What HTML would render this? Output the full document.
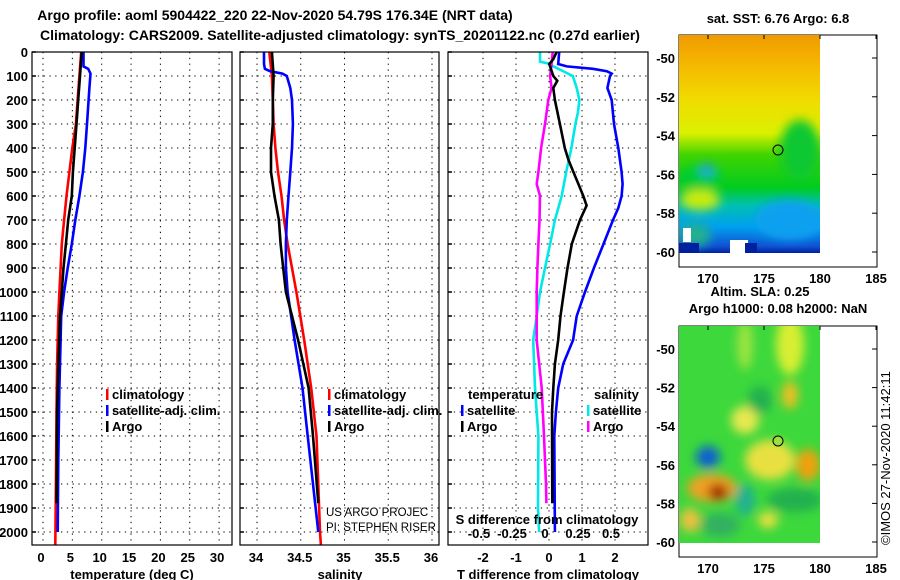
<!DOCTYPE html>
<html><head><meta charset="utf-8"><style>
html,body{margin:0;padding:0;background:#fff;}
svg{display:block;font-family:"Liberation Sans",sans-serif;}
.b{font-weight:bold;font-size:13px;}
.n{font-weight:normal;font-size:11.5px;}
</style></head><body>
<svg id="c" width="900" height="580" viewBox="0 0 900 580">
<defs>
<linearGradient id="sstg" x1="0" y1="0" x2="0" y2="1">
<stop offset="0" stop-color="#f09a00"/><stop offset="0.12" stop-color="#f5b400"/><stop offset="0.3" stop-color="#f0dc00"/><stop offset="0.45" stop-color="#dcf000"/><stop offset="0.55" stop-color="#40d400"/><stop offset="0.7" stop-color="#00cc20"/><stop offset="0.78" stop-color="#00c0b0"/><stop offset="0.88" stop-color="#00a0f0"/><stop offset="0.97" stop-color="#1050d0"/><stop offset="1" stop-color="#0020a0"/>
</linearGradient>
<filter id="bl" x="-50%" y="-50%" width="200%" height="200%"><feGaussianBlur stdDeviation="5"/></filter>
<clipPath id="m1"><rect x="679" y="35" width="141" height="218"/></clipPath>
<clipPath id="m2"><rect x="679" y="326" width="141" height="217"/></clipPath>
</defs>
<text x="275" y="20" text-anchor="middle" class="b" style="font-size:14px">Argo profile: aoml 5904422_220 22-Nov-2020 54.79S 176.34E (NRT data)</text>
<text x="340" y="40" text-anchor="middle" class="b" style="font-size:14px">Climatology: CARS2009. Satellite-adjusted climatology: synTS_20201122.nc (0.27d earlier)</text>
<g id="plots"></g>
<g id="maps">
 <g>
  <text x="778" y="23" text-anchor="middle" class="b">sat. SST: 6.76 Argo: 6.8</text>
  <rect x="679" y="35" width="198" height="232" fill="#fff" stroke="#000"/>
  <g clip-path="url(#m1)">
   <rect x="679" y="35" width="141" height="218" fill="url(#sstg)"/>
   <g filter="url(#bl)">
    <ellipse cx="700" cy="180" rx="22" ry="14" fill="#00cc30"/>
    <ellipse cx="707" cy="170" rx="8" ry="6" fill="#20a0e0"/>
    <ellipse cx="700" cy="200" rx="20" ry="10" fill="#c8ec10"/>
    <ellipse cx="800" cy="150" rx="20" ry="30" fill="#10c830"/>
    <ellipse cx="790" cy="220" rx="35" ry="20" fill="#10a0f0"/>
    <ellipse cx="695" cy="235" rx="16" ry="12" fill="#20b090"/>
   </g>
   <rect x="679" y="243" width="20" height="10" fill="#0020a0"/>
   <rect x="730" y="240" width="18" height="13" fill="#fff"/>
   <rect x="683" y="228" width="8" height="14" fill="#fff"/>
   <rect x="745" y="243" width="12" height="10" fill="#0020a0"/>
  </g>
  <circle cx="778" cy="150" r="5" fill="none" stroke="#000"/>
 </g>
 <g>
  <text x="760" y="296" text-anchor="middle" class="b">Altim. SLA: 0.25</text>
  <text x="778" y="313" text-anchor="middle" class="b">Argo h1000: 0.08 h2000: NaN</text>
  <rect x="679" y="326" width="198" height="231" fill="#fff" stroke="#000"/>
  <g clip-path="url(#m2)">
   <rect x="679" y="326" width="141" height="217" fill="#3cd83c"/>
   <g filter="url(#bl)">
    <ellipse cx="790" cy="345" rx="14" ry="30" fill="#d8ee30"/>
    <ellipse cx="745" cy="345" rx="8" ry="25" fill="#9ce440"/>
    <ellipse cx="790" cy="395" rx="8" ry="14" fill="#f0c020"/>
    <ellipse cx="745" cy="420" rx="14" ry="14" fill="#e8e850"/>
    <ellipse cx="760" cy="400" rx="12" ry="14" fill="#20b050"/>
    <ellipse cx="808" cy="465" rx="12" ry="16" fill="#f0a010"/>
    <ellipse cx="770" cy="460" rx="25" ry="20" fill="#e8e040"/>
    <ellipse cx="708" cy="457" rx="12" ry="11" fill="#1060d0"/>
    <ellipse cx="712" cy="488" rx="25" ry="14" fill="#f0a020"/>
    <ellipse cx="718" cy="492" rx="10" ry="8" fill="#a02000"/>
    <ellipse cx="745" cy="500" rx="10" ry="16" fill="#20b090"/>
    <ellipse cx="795" cy="500" rx="28" ry="12" fill="#20b050"/>
    <ellipse cx="690" cy="520" rx="10" ry="12" fill="#f0c040"/>
    <ellipse cx="720" cy="525" rx="20" ry="12" fill="#30b060"/>
    <ellipse cx="768" cy="520" rx="10" ry="8" fill="#f0e040"/>
   </g>
  </g>
  <circle cx="778" cy="441" r="5" fill="#9be040" stroke="#000"/>
 </g>
</g>
<text transform="translate(890,545) rotate(-90)" font-size="13">©IMOS 27-Nov-2020 11:42:11</text>
</svg>
<script>
// ---- data ----
const depthClim = [0,100,200,300,400,500,600,700,800,900,1000,1100,1300,1500,1800,2054];
const tempClim  = [6.5,6.2,5.9,5.6,5.0,4.5,4.0,3.6,3.2,3.0,2.8,2.6,2.4,2.3,2.2,2.1];
const depthSat  = [0,60,70,90,150,300,400,500,600,700,800,900,1000,1100,1200,1400,1700,2000];
const tempSat   = [6.9,6.9,7.7,8.1,7.9,7.5,7.2,6.8,6.2,5.5,4.9,4.2,3.6,3.1,3.0,2.8,2.6,2.5];
const depthArgo = [0,100,200,300,400,500,600,700,800,900,1000,1100,1300,1500,1880];
const tempArgo  = [6.6,6.3,6.0,5.7,5.4,5.1,4.9,4.3,3.9,3.5,3.2,2.9,2.6,2.4,2.3];
const salClimD  = [0,100,200,300,400,500,600,700,800,900,1000,1200,1400,1600,2000,2054];
const salClim   = [34.14,34.17,34.18,34.19,34.21,34.24,34.28,34.31,34.35,34.40,34.45,34.54,34.62,34.68,34.72,34.73];
const salSatD   = [0,50,70,80,90,100,150,200,300,400,500,600,700,800,900,1000,1200,1400,1600,2000];
const salSat    = [34.08,34.08,34.09,34.15,34.29,34.34,34.38,34.40,34.41,34.40,34.38,34.36,34.34,34.33,34.33,34.35,34.43,34.52,34.58,34.70];
const salArgoD  = [0,100,200,300,400,500,600,700,800,900,1000,1200,1400,1600,1880];
const salArgo   = [34.17,34.19,34.18,34.18,34.16,34.16,34.20,34.25,34.27,34.30,34.33,34.47,34.59,34.64,34.70];
const dTSatD    = [0,50,60,70,80,90,100,150,200,300,400,500,550,600,650,700,800,900,1000,1100,1200,1300,1400,1500,1600,2000];
const dTSat     = [0.31,0.28,0.54,1.33,1.75,1.90,1.85,1.77,1.90,1.97,2.10,2.20,2.23,2.20,2.10,1.94,1.65,1.36,1.09,0.84,0.73,0.43,0.28,0.21,0.16,0.18];
const dTArgoD   = [0,30,50,100,120,150,200,300,400,450,500,550,600,640,700,800,900,1000,1100,1200,1300,1400,1500,1880];
const dTArgo    = [0.23,0.13,0.01,0.13,0.25,0.13,0.18,0.33,0.48,0.59,0.74,0.89,1.04,1.14,0.94,0.69,0.56,0.45,0.35,0.28,0.18,0.13,0.09,0.10];
const dSSatD    = [0,40,50,60,100,150,200,250,300,400,500,600,700,800,900,1000,1100,1200,1400,1600,1900,2000];
const dSSat     = [-0.068,-0.068,0.008,0.033,0.18,0.21,0.23,0.22,0.20,0.17,0.13,0.096,0.045,0.008,-0.03,-0.068,-0.093,-0.12,-0.106,-0.08,-0.083,-0.075];
const dSArgoD   = [0,50,100,150,200,300,400,500,550,600,700,800,900,1000,1200,1400,1600,1800,1880];
const dSArgo    = [0.028,0.02,0.008,0.02,-0.005,-0.03,-0.06,-0.08,-0.093,-0.068,-0.072,-0.08,-0.088,-0.093,-0.093,-0.055,-0.038,-0.023,-0.02];
const depthTicks = [0,100,200,300,400,500,600,700,800,900,1000,1100,1200,1300,1400,1500,1600,1700,1800,1900,2000];
const tempTicks = [0,5,10,15,20,25,30];
const salTicks = [34,34.5,35,35.5,36];
const salTickLabels = ["34","34.5","35","35.5","36"];
const dTTicks = [-2,-1,0,1,2];
const dSTicks = [-0.5,-0.25,0,0.25,0.5];
const dSTickLabels = ["-0.5","-0.25","0","0.25","0.5"];
const latTicks = [-50,-52,-54,-56,-58,-60];
const lonTicks = [170,175,180,185];

// ---- scales ----
const yD = d => 52 + d*0.24;
const xT = t => 43 + t*5.87;
const xS = s => 257 + (s-34)*87.5;
const xDT = t => 549 + t*33;
const xDS = s => 549 + s*132;
const yLat1 = l => 58 + (-50-l)*19.4;
const yLat2 = l => 349 + (-50-l)*19.3;
const xLon = l => 708 + (l-170)*11.2;

const NS='http://www.w3.org/2000/svg';
const root=document.getElementById('plots');
function mk(tag,attrs,parent){const e=document.createElementNS(NS,tag);for(const k in attrs)e.setAttribute(k,attrs[k]);(parent||root).appendChild(e);return e;}
function txt(x,y,s,anchor,parent,cls){const e=mk('text',{x:x,y:y,'text-anchor':anchor||'start',class:cls||'b'},parent);e.textContent=s;return e;}

const panels=[{x0:32,x1:232,name:'temperature-panel'},{x0:240,x1:439,name:'salinity-panel'},{x0:448,x1:648,name:'difference-panel'}];
const gs=[];
panels.forEach((p,i)=>{
  const g=mk('g',{});
  
  
  gs.push(g);
  depthTicks.forEach(d=>{
    const l=mk('line',{x1:p.x0,x2:p.x1,y1:yD(d),y2:yD(d),stroke:'#000','stroke-dasharray':'1.3,4.5'},g);
    
    
    const tk=mk('line',{x1:p.x0,x2:p.x0+4,y1:yD(d),y2:yD(d),stroke:'#000','stroke-width':1.5},g);
    
    
  });
});
function vgrid(g,xs){xs.forEach(x=>{const l=mk('line',{x1:x,x2:x,y1:52,y2:545,stroke:'#000','stroke-dasharray':'1.3,4.5'},g);
  
  });}
vgrid(gs[0],tempTicks.map(xT));
vgrid(gs[1],salTicks.map(xS));
vgrid(gs[2],dTTicks.map(xDT));

depthTicks.forEach(d=>{const t=txt(28,yD(d)+5,String(d),'end');
  
  });
tempTicks.forEach(v=>{const t=txt(xT(v)-2,562,String(v),'middle');
  
  });
salTicks.forEach((v,i)=>{const t=txt(xS(v)-1,562,salTickLabels[i],'middle');
  
  });
dTTicks.forEach(v=>{const t=txt(xDT(v),562,String(v),'middle');
  
  });
dSTicks.forEach((v,i)=>{const t=txt(xDS(v)-4,538,dSTickLabels[i],'middle');
  
  });
let t;
t=txt(132,579,'temperature (deg C)','middle');  
t=txt(340,579,'salinity','middle');  
t=txt(548,579,'T difference from climatology','middle');  
t=txt(547,524,'S difference from climatology','middle');  

function series(g,ds,vs,fx,color,name){
  const pts=ds.map((d,i)=>fx(vs[i]).toFixed(1)+','+yD(d).toFixed(1)).join(' ');
  const l=mk('polyline',{points:pts,fill:'none',stroke:color,'stroke-width':2.6,'stroke-linejoin':'miter'},g);
  
  
}
series(gs[0],depthClim,tempClim,xT,'#ff0000','temperature-climatology-line');
series(gs[0],depthSat,tempSat,xT,'#0000ff','temperature-satellite-line');
series(gs[0],depthArgo,tempArgo,xT,'#000','temperature-argo-line');
series(gs[1],salClimD,salClim,xS,'#ff0000','salinity-climatology-line');
series(gs[1],salSatD,salSat,xS,'#0000ff','salinity-satellite-line');
series(gs[1],salArgoD,salArgo,xS,'#000','salinity-argo-line');
series(gs[2],dSSatD,dSSat,xDS,'#00e8e8','s-diff-satellite-line');
series(gs[2],dSArgoD,dSArgo,xDS,'#ff00ff','s-diff-argo-line');
series(gs[2],dTSatD,dTSat,xDT,'#0000ff','t-diff-satellite-line');
series(gs[2],dTArgoD,dTArgo,xDT,'#000','t-diff-argo-line');

panels.forEach((p,i)=>{const r=mk('rect',{x:p.x0,y:52,width:p.x1-p.x0,height:493,fill:'none',stroke:'#000','stroke-width':1.2},gs[i]);
  
  });

function legend(g,x,y,label,color){
  const m=mk('rect',{x:x,y:y-10,width:2.5,height:11,fill:color},g);
  
  
  const tt=txt(x+6,y,label,'start',g);
  
  
}
legend(gs[0],106,399,'climatology','#ff0000');
legend(gs[0],106,415,'satellite-adj. clim.','#0000ff');
legend(gs[0],106,431,'Argo','#000');
legend(gs[1],328,399,'climatology','#ff0000');
legend(gs[1],328,415,'satellite-adj. clim.','#0000ff');
legend(gs[1],328,431,'Argo','#000');
t=txt(468,399,'temperature','start',gs[2]);  
t=txt(594,399,'salinity','start',gs[2]);  
legend(gs[2],461,415,'satellite','#0000ff');
legend(gs[2],461,431,'Argo','#000');
legend(gs[2],587,415,'satellite','#00e8e8');
legend(gs[2],587,431,'Argo','#ff00ff');
t=txt(326,516,'US ARGO PROJEC','start',gs[1],'n');  
t=txt(326,531,'PI: STEPHEN RISER','start',gs[1],'n');  

// map axes
const maps=document.getElementById('maps');
[[yLat1,267],[yLat2,557]].forEach(([fy,yb],mi)=>{
  latTicks.forEach(l=>{
    const tk=mk('line',{x1:877,x2:872,y1:fy(l),y2:fy(l),stroke:'#000'},maps);
    
    
    const tl=txt(675,fy(l)+5,String(l),'end',maps);
    
    
  });
  lonTicks.forEach(l=>{
    const top=mi===0?35:326;
    const tk=mk('line',{x1:xLon(l),x2:xLon(l),y1:top,y2:top+4,stroke:'#000'},maps);
    
    
    const tl=txt(xLon(l),yb+16,String(l),'middle',maps);
    
    
  });
});
</script>
</body></html>
